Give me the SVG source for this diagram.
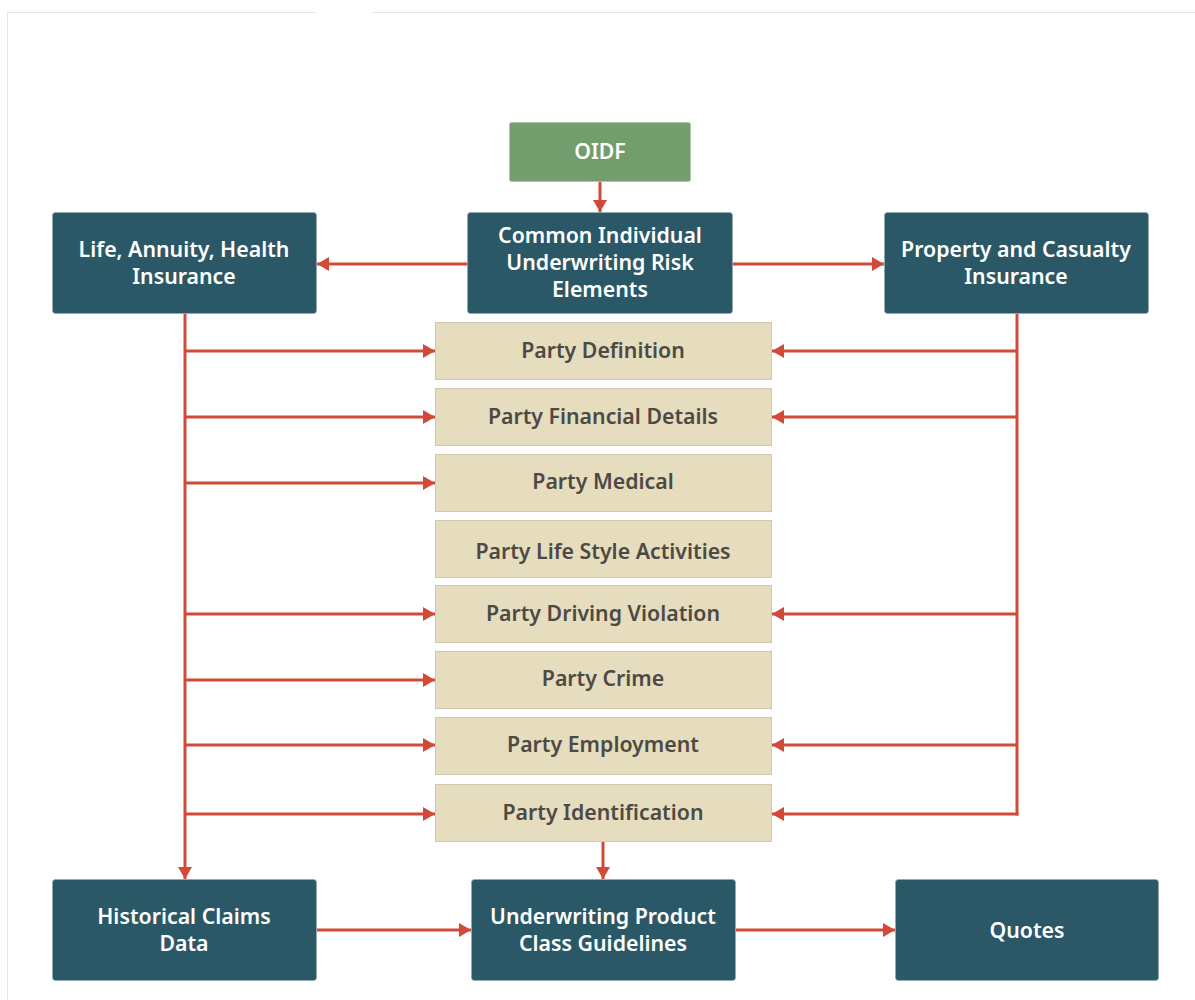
<svg xmlns="http://www.w3.org/2000/svg" width="1195" height="1000" viewBox="0 0 1195 1000">
<defs>
<style>
.dark{fill:#2b5866;stroke:#8fa9b0;stroke-width:0.8}
.green{fill:#739d6c;stroke:#a9c4a4;stroke-width:0.8}
.tan{fill:#e6dcbe;stroke:#cfc7ae;stroke-width:1}
.wt{font-family:"Noto Sans","Open Sans",sans-serif;font-weight:600;font-size:21.3px;fill:#ffffff;text-anchor:middle}
.tt{font-family:"Noto Sans","Open Sans",sans-serif;font-weight:600;font-size:21.3px;fill:#4d4a45;text-anchor:middle}
.ln{stroke:#d04a37;stroke-width:3;fill:none}
</style>
<marker id="ah" viewBox="0 0 12 14" refX="12" refY="7" markerWidth="12" markerHeight="14" markerUnits="userSpaceOnUse" orient="auto">
<path d="M0,0 L12,7 L0,14 Z" fill="#d04a37"/>
</marker>
</defs>
<rect width="1195" height="1000" fill="#ffffff"/>
<g id="frame" stroke="#e6e6e6" stroke-width="1" fill="none">
<path d="M316,12.5 H7.5 V1000"/>
<path d="M372,12.5 H1195"/>
</g>
<g id="connectors" class="ln">
<line x1="600" y1="182" x2="600" y2="212" marker-end="url(#ah)"/>
<line x1="467" y1="264" x2="317" y2="264" marker-end="url(#ah)"/>
<line x1="733" y1="264" x2="884" y2="264" marker-end="url(#ah)"/>
<line x1="185" y1="314" x2="185" y2="879" marker-end="url(#ah)"/>
<line x1="185" y1="351" x2="435" y2="351" marker-end="url(#ah)"/>
<line x1="185" y1="417" x2="435" y2="417" marker-end="url(#ah)"/>
<line x1="185" y1="483" x2="435" y2="483" marker-end="url(#ah)"/>
<line x1="185" y1="614" x2="435" y2="614" marker-end="url(#ah)"/>
<line x1="185" y1="680" x2="435" y2="680" marker-end="url(#ah)"/>
<line x1="185" y1="745" x2="435" y2="745" marker-end="url(#ah)"/>
<line x1="185" y1="814" x2="435" y2="814" marker-end="url(#ah)"/>
<line x1="1017" y1="314" x2="1017" y2="815.5"/>
<line x1="1017" y1="351" x2="772" y2="351" marker-end="url(#ah)"/>
<line x1="1017" y1="417" x2="772" y2="417" marker-end="url(#ah)"/>
<line x1="1017" y1="614" x2="772" y2="614" marker-end="url(#ah)"/>
<line x1="1017" y1="745" x2="772" y2="745" marker-end="url(#ah)"/>
<line x1="1018.5" y1="814" x2="772" y2="814" marker-end="url(#ah)"/>
<line x1="603" y1="842" x2="603" y2="879" marker-end="url(#ah)"/>
<line x1="317" y1="930" x2="471" y2="930" marker-end="url(#ah)"/>
<line x1="736" y1="930" x2="895" y2="930" marker-end="url(#ah)"/>
</g>
<g id="oidf"><rect class="green" x="509.5" y="122.5" width="181" height="59" rx="2"/><text class="wt" x="600" y="159">OIDF</text></g>
<g id="common"><rect class="dark" x="467.5" y="212.5" width="265" height="101" rx="3"/><text class="wt" x="600" y="243">Common Individual</text><text class="wt" x="600" y="270">Underwriting Risk</text><text class="wt" x="600" y="297">Elements</text></g>
<g id="life"><rect class="dark" x="52.5" y="212.5" width="264" height="101" rx="3"/><text class="wt" x="184" y="257">Life, Annuity, Health</text><text class="wt" x="184" y="284">Insurance</text></g>
<g id="property"><rect class="dark" x="884.5" y="212.5" width="264" height="101" rx="3"/><text class="wt" x="1016" y="257">Property and Casualty</text><text class="wt" x="1016" y="284">Insurance</text></g>
<g id="party-definition"><rect class="tan" x="435.5" y="322.5" width="336" height="57"/><text class="tt" x="603" y="358">Party Definition</text></g>
<g id="party-financial"><rect class="tan" x="435.5" y="388.5" width="336" height="57"/><text class="tt" x="603" y="424">Party Financial Details</text></g>
<g id="party-medical"><rect class="tan" x="435.5" y="454.5" width="336" height="57"/><text class="tt" x="603" y="489">Party Medical</text></g>
<g id="party-lifestyle"><rect class="tan" x="435.5" y="520.5" width="336" height="57"/><text class="tt" x="603" y="559">Party Life Style Activities</text></g>
<g id="party-driving"><rect class="tan" x="435.5" y="585.5" width="336" height="57"/><text class="tt" x="603" y="621">Party Driving Violation</text></g>
<g id="party-crime"><rect class="tan" x="435.5" y="651.5" width="336" height="57"/><text class="tt" x="603" y="686">Party Crime</text></g>
<g id="party-employment"><rect class="tan" x="435.5" y="717.5" width="336" height="57"/><text class="tt" x="603" y="752">Party Employment</text></g>
<g id="party-identification"><rect class="tan" x="435.5" y="784.5" width="336" height="57"/><text class="tt" x="603" y="820">Party Identification</text></g>
<g id="historical"><rect class="dark" x="52.5" y="879.5" width="264" height="101" rx="3"/><text class="wt" x="184" y="924">Historical Claims</text><text class="wt" x="184" y="951">Data</text></g>
<g id="underwriting"><rect class="dark" x="471.5" y="879.5" width="264" height="101" rx="3"/><text class="wt" x="603" y="924">Underwriting Product</text><text class="wt" x="603" y="951">Class Guidelines</text></g>
<g id="quotes"><rect class="dark" x="895.5" y="879.5" width="263" height="101" rx="3"/><text class="wt" x="1027" y="938">Quotes</text></g>
</svg>
